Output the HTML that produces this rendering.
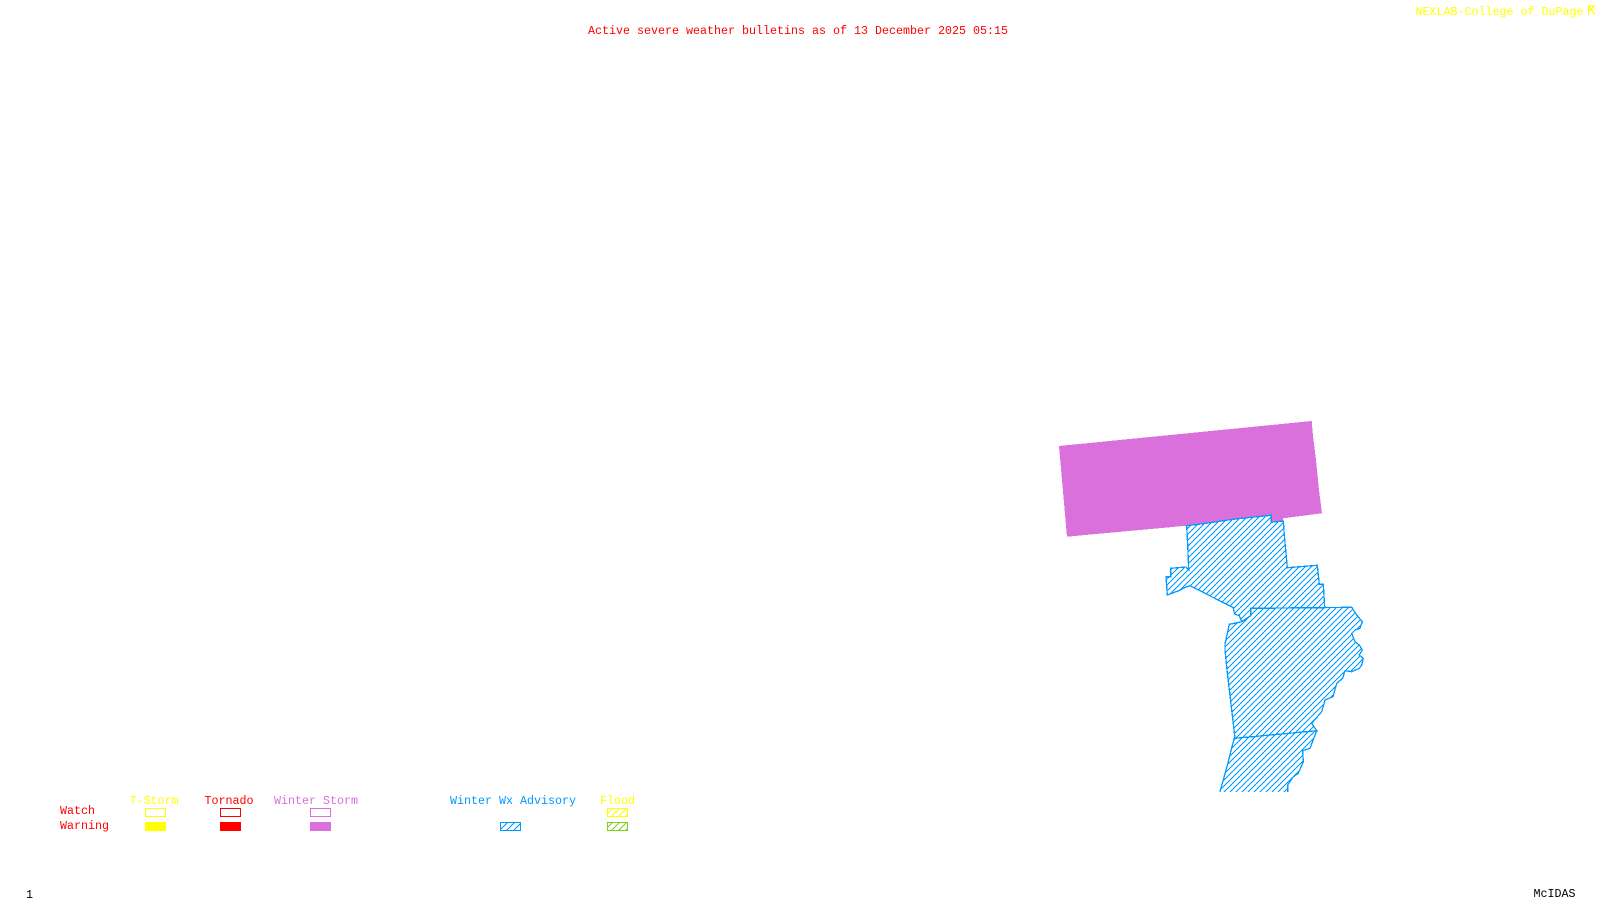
<!DOCTYPE html>
<html>
<head>
<meta charset="utf-8">
<style>
html,body{margin:0;padding:0;background:#fff;width:1600px;height:900px;overflow:hidden}
svg{display:block}
text{font-family:"Liberation Mono",monospace;font-size:11.67px;white-space:pre}
</style>
</head>
<body>
<svg width="1600" height="900" viewBox="0 0 1600 900" xmlns="http://www.w3.org/2000/svg">
<defs>
<pattern id="h" width="6" height="6" patternUnits="userSpaceOnUse">
<path d="M-1 7L7 -1M-1 1L1 -1M5 7L7 5" stroke="#0099ff" stroke-width="1" fill="none" shape-rendering="crispEdges"/>
</pattern>
<pattern id="hy" width="7" height="7" patternUnits="userSpaceOnUse">
<path d="M-1 8L8 -1M-1 1L1 -1M6 8L8 6" stroke="#ffff00" stroke-width="1" fill="none" shape-rendering="crispEdges"/>
</pattern>
<pattern id="hg" width="7" height="7" patternUnits="userSpaceOnUse">
<path d="M-1 8L8 -1M-1 1L1 -1M6 8L8 6" stroke="#7fd01c" stroke-width="1" fill="none" shape-rendering="crispEdges"/>
</pattern>
<pattern id="hb" width="7" height="7" patternUnits="userSpaceOnUse">
<path d="M-1 8L8 -1M-1 1L1 -1M6 8L8 6" stroke="#0099ff" stroke-width="1" fill="none" shape-rendering="crispEdges"/>
</pattern>
<clipPath id="c"><rect x="0" y="0" width="1600" height="792"/></clipPath>
</defs>
<rect width="1600" height="900" fill="#fff"/>

<text x="588" y="34" fill="#ff0000" textLength="420" lengthAdjust="spacingAndGlyphs">Active severe weather bulletins as of 13 December 2025 05:15</text>
<text x="1415.5" y="15" fill="#ffff00" textLength="168" lengthAdjust="spacingAndGlyphs">NEXLAB-College of DuPage</text>
<g fill="none" stroke="#ffff00" stroke-width="1.2">
<path d="M1588.5 6H1595M1588.5 6V15M1589 6.500L1595 14.500M1589 11L1595 6"/>
</g>

<polygon points="1059,446 1311.7,421 1313,436 1316,460 1319,490 1322,513.3 1283,518.3 1283,520.7 1271.7,521.7 1271.7,515.3 1186.7,525.7 1067,536.700" fill="#da70dc" shape-rendering="crispEdges"/>

<g clip-path="url(#c)" fill="url(#h)" stroke="#0099ff" stroke-width="1.3" stroke-linejoin="miter" shape-rendering="crispEdges">
<polygon points="1186.700,525.700 1205,523.500 1235,519 1271.300,515.300 1271.300,522.300 1283.300,521 1284.300,535 1287.300,567.700 1317.300,565.300 1319.300,584.300 1323.300,584.300 1324.700,607.700 1250.700,608.300 1250.700,615.700 1241.700,621.700 1239.300,615.700 1234.500,614 1233.300,607.700 1190,585.700 1186,587 1178,591 1167.300,595 1166,576.700 1170.700,576.700 1170.700,568.300 1186,567 1188.700,570 1187.700,545"/>
<polygon points="1250.700,608.300 1351.700,607.300 1356.700,615 1362.300,621.700 1360,628.300 1355,630 1351.700,633.300 1355,641.700 1359.300,645 1362.300,650 1359.300,655 1363.300,658.300 1361.700,665 1359.300,668.300 1351.700,671.700 1345,670.700 1342.700,678.300 1336.700,683.300 1333,696.700 1325,700 1321.700,711.700 1311.700,723.300 1316.700,730.700 1235,738.300 1231.700,710 1227,670 1225,650 1225,644 1229.300,624.300 1239.300,622.300 1241.700,621.700 1250.700,615.700"/>
<polygon points="1235,738.300 1316.700,730.700 1310,748.300 1302.700,750.700 1303.300,761.700 1298.300,773.300 1293.300,776.700 1287.700,785 1287.700,800 1217,800 1220,791.700 1228.300,761.700 1230.700,751.700 1234.300,738.300"/>
</g>

<g>
<text x="129.500" y="804" fill="#ffff00" textLength="49" lengthAdjust="spacingAndGlyphs">T-Storm</text>
<text x="204.500" y="804" fill="#ff0000" textLength="49" lengthAdjust="spacingAndGlyphs">Tornado</text>
<text x="274" y="804" fill="#da70dc" textLength="84" lengthAdjust="spacingAndGlyphs">Winter Storm</text>
<text x="450" y="804" fill="#0099ff" textLength="126" lengthAdjust="spacingAndGlyphs">Winter Wx Advisory</text>
<text x="600" y="804" fill="#ffff00" textLength="35" lengthAdjust="spacingAndGlyphs">Flood</text>
<text x="60" y="814" fill="#ff0000" textLength="35" lengthAdjust="spacingAndGlyphs">Watch</text>
<text x="60" y="829" fill="#ff0000" textLength="49" lengthAdjust="spacingAndGlyphs">Warning</text>
</g>

<g shape-rendering="crispEdges" stroke-width="1">
<rect x="145.500" y="808.500" width="20" height="8" fill="none" stroke="#ffff00"/>
<rect x="145" y="822" width="21" height="9" fill="#ffff00"/>
<rect x="220.500" y="808.500" width="20" height="8" fill="none" stroke="#ff0000"/>
<rect x="220" y="822" width="21" height="9" fill="#ff0000"/>
<rect x="310.500" y="808.500" width="20" height="8" fill="none" stroke="#da70dc"/>
<rect x="310" y="822" width="21" height="9" fill="#da70dc"/>
<rect x="500.500" y="822.500" width="20" height="8" fill="url(#hb)" stroke="#0099ff"/>
<rect x="607.500" y="808.500" width="20" height="8" fill="url(#hy)" stroke="#ffff00"/>
<rect x="607.500" y="822.500" width="20" height="8" fill="url(#hg)" stroke="#7fd01c"/>
</g>

<text x="26" y="898" fill="#000">1</text>
<text x="1533.500" y="897" fill="#000" textLength="42" lengthAdjust="spacingAndGlyphs">McIDAS</text>
</svg>
</body>
</html>
